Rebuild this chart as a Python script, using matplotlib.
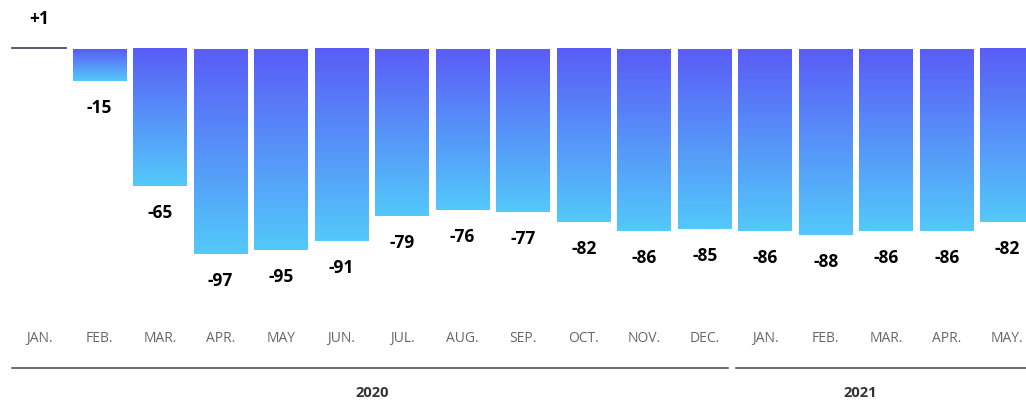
import matplotlib.pyplot as plt
import numpy as np
from matplotlib.colors import LinearSegmentedColormap

months = ["JAN.", "FEB.", "MAR.", "APR.", "MAY", "JUN.", "JUL.", "AUG.", "SEP.",
          "OCT.", "NOV.", "DEC.", "JAN.", "FEB.", "MAR.", "APR.", "MAY."]
values = [1, -15, -65, -97, -95, -91, -79, -76, -77, -82, -86, -85, -86, -88, -86, -86, -82]
labels = ["+1", "-15", "-65", "-97", "-95", "-91", "-79", "-76", "-77", "-82", "-86",
          "-85", "-86", "-88", "-86", "-86", "-82"]
years = ["2020", "2021"]

cmap = LinearSegmentedColormap.from_list("bars", ["#5a5cf7", "#53c9fa"])
grad = np.linspace(0, 1, 256).reshape(-1, 1)

fig = plt.figure(figsize=(10.26, 4.05), dpi=100)
ax = fig.add_axes([0, 0, 1, 1])
ax.set_xlim(-0.645, 16.31)
ax.set_ylim(-168.5, 23.2)
ax.axis("off")

width = 0.89
x = np.arange(len(values))
for xi, v, lab in zip(x, values, labels):
    if v > 0:
        ax.plot([xi - width / 2, xi + width / 2], [0.5, 0.5], color="#4a4f6a", lw=1.3)
        ax.text(xi, v + 9, lab, ha="center", va="bottom", fontsize=12.5,
                fontweight="bold", family="Open Sans")
    else:
        ax.imshow(grad, cmap=cmap, aspect="auto", interpolation="bicubic",
                  extent=[xi - width / 2, xi + width / 2, v, 0], zorder=2)
        ax.text(xi, v - 8.5, lab, ha="center", va="top", fontsize=12.5,
                fontweight="bold", family="Open Sans")
    ax.text(xi, -136.8, months[xi], ha="center", va="center", fontsize=10,
            color="#666666", family="Open Sans")

# year brackets
ax.plot([-0.45, 11.38], [-151, -151], color="#444444", lw=1.1)
ax.plot([11.52, 16.31], [-151, -151], color="#444444", lw=1.1)
ax.text(5.5, -162.8, years[0], ha="center", va="center", fontsize=10.5,
        fontweight="bold", color="#333333", family="Open Sans")
ax.text(13.57, -162.8, years[1], ha="center", va="center", fontsize=10.5,
        fontweight="bold", color="#333333", family="Open Sans")

fig.savefig("out.png", dpi=100)
